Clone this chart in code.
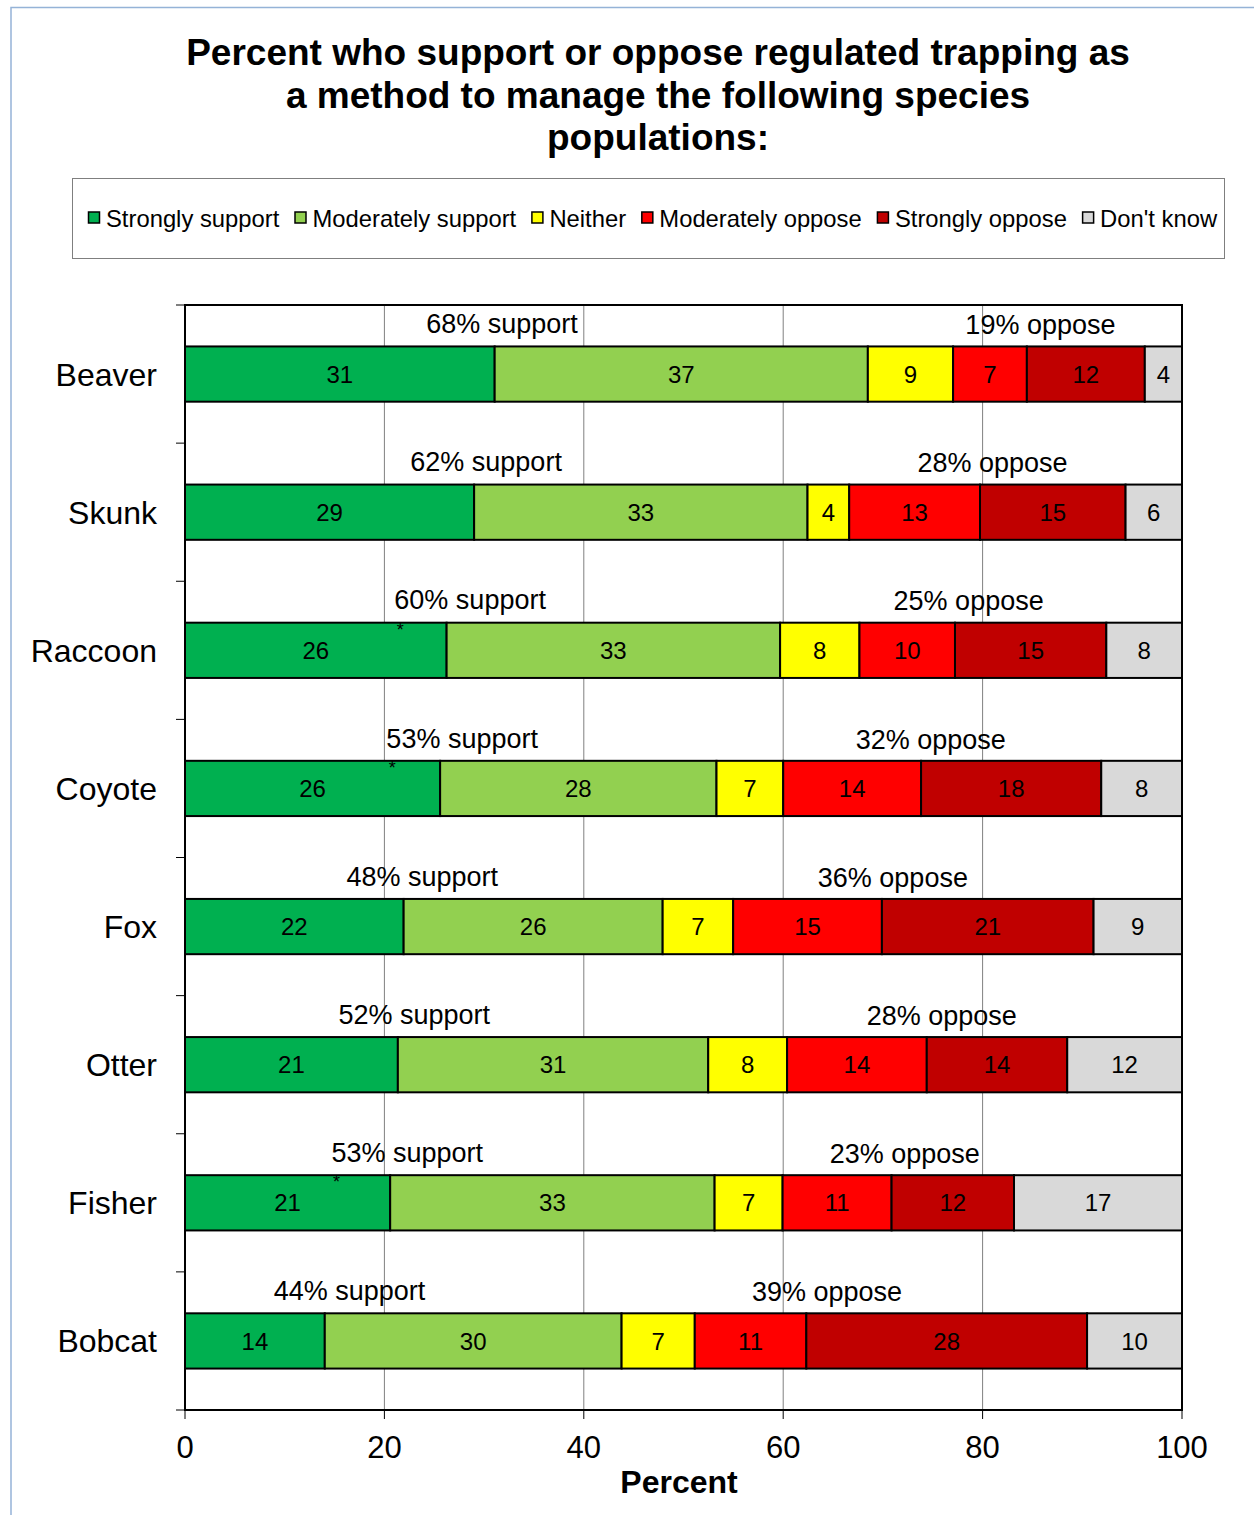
<!DOCTYPE html>
<html>
<head>
<meta charset="utf-8">
<script src="https://cdn.jsdelivr.net/npm/d3@7"></script>
<style>
	body { margin: 0; background: #fff; }
	text { font-family: 'Liberation Sans', Arial, sans-serif; fill: #000; }
</style>
</head>
<body>
<div id="chart"></div>
<script>
var species = ['Beaver', 'Skunk', 'Raccoon', 'Coyote', 'Fox', 'Otter', 'Fisher', 'Bobcat'];
var seriesNames = ['Strongly support', 'Moderately support', 'Neither', 'Moderately oppose', 'Strongly oppose', "Don't know"];

// percent of respondents
var stronglySupport   = [31.06, 29.00, 26.24, 25.59, 21.93, 21.35, 20.58, 14.02];
var moderatelySupport = [37.43, 33.44, 33.45, 27.72, 25.98, 31.13, 32.54, 29.77];
var neither           = [8.55, 4.18, 7.96, 6.69, 7.07, 7.91, 6.82, 7.34];
var moderatelyOppose  = [7.40, 13.12, 9.58, 13.83, 14.92, 14.01, 10.93, 11.19];
var stronglyOppose    = [11.83, 14.60, 15.18, 18.07, 21.23, 14.09, 12.28, 28.16];
var dontKnow          = [3.73, 5.66, 7.59, 8.10, 8.87, 11.51, 16.85, 9.52];

var supportTotal = [68, 62, 60, 53, 48, 52, 53, 44];
var opposeTotal  = [19, 28, 25, 32, 36, 28, 23, 39];
// where the totals sit along the axis (percent)
var supportLabelAt = [31.8, 30.2, 28.6, 27.8, 23.8, 23.0, 22.3, 16.5];
var opposeLabelAt  = [85.8, 81.0, 78.6, 74.8, 71.0, 75.9, 72.2, 64.4];
// significance stars (percent, null = none)
var starAt = [null, null, 21.6, 20.8, null, null, 15.2, null];

var xTicks = [0, 20, 40, 60, 80, 100];
var colors = ['#00B050', '#92D050', '#FFFF00', '#FF0000', '#C00000', '#D9D9D9'];

var width = 1254, height = 1515;
var margin = {left: 185, right: 72, top: 305, bottom: 105};

var svg = d3
	.select('#chart')
	.append('svg')
	.attr('width', width)
	.attr('height', height);

// frame
svg.append('path')
	.attr('d', 'M11,' + height + 'V7.5H' + width)
	.attr('fill', 'none')
	.attr('stroke', '#95B3D7')
	.attr('stroke-width', 1.5);

// TITLE
var titleLines = ['Percent who support or oppose regulated trapping as', 'a method to manage the following species', 'populations:'];
svg.append('g')
	.selectAll('text')
	.data(titleLines)
	.enter()
	.append('text')
	.attr('x', 658)
	.attr('y', function(d, i){ return 65 + i * 42.5; })
	.attr('text-anchor', 'middle')
	.style('font-size', '37px')
	.style('font-weight', 'bold')
	.text(function(d){ return d; });

// LEGEND
svg.append('rect')
	.attr('x', 72.5)
	.attr('y', 178.5)
	.attr('width', 1152)
	.attr('height', 80)
	.attr('fill', 'none')
	.attr('stroke', '#7f7f7f')
	.attr('stroke-width', 1);

var lx = 88;
seriesNames.forEach(function(name, i){
	var g = svg.append('g').attr('transform', 'translate(' + lx + ',0)');
	g.append('rect')
		.attr('x', 0.5)
		.attr('y', 212)
		.attr('width', 11)
		.attr('height', 11)
		.attr('fill', colors[i])
		.attr('stroke', '#000')
		.attr('stroke-width', 1.5);
	var t = g.append('text')
		.attr('x', 18)
		.attr('y', 226.5)
		.style('font-size', '23.8px')
		.text(name);
	lx += 18 + t.node().getComputedTextLength() + 15.2;
});

// SCALES
var x = d3
	.scaleLinear()
	.domain([0, 100])
	.range([margin.left, width - margin.right]);

var y = d3
	.scaleBand()
	.domain(species)
	.range([margin.top, height - margin.bottom])
	.paddingInner(0.6)
	.paddingOuter(0.3);

var plotBottom = height - margin.bottom;
var step = y.step();

// GRIDLINES
svg.append('g')
	.selectAll('line')
	.data(xTicks.slice(1, -1))
	.enter()
	.append('line')
	.attr('x1', function(d){ return x(d); })
	.attr('x2', function(d){ return x(d); })
	.attr('y1', margin.top)
	.attr('y2', plotBottom)
	.attr('stroke', '#808080')
	.attr('stroke-width', 1);

// STACK
var rows = species.map(function(s, i){
	return {
		species: s,
		v: [stronglySupport[i], moderatelySupport[i], neither[i], moderatelyOppose[i], stronglyOppose[i], dontKnow[i]]
	};
});

var stack = d3
	.stack()
	.keys(d3.range(6))
	.value(function(d, k){ return d.v[k]; });

var layers = stack(rows);

var layer = svg.append('g')
	.selectAll('g')
	.data(layers)
	.enter()
	.append('g')
	.attr('fill', function(d, i){ return colors[i]; });

layer.selectAll('rect')
	.data(function(d){ return d; })
	.enter()
	.append('rect')
	.attr('x', function(d){ return x(d[0]); })
	.attr('y', function(d){ return y(d.data.species); })
	.attr('width', function(d){ return x(d[1]) - x(d[0]); })
	.attr('height', y.bandwidth())
	.attr('stroke', '#000')
	.attr('stroke-width', 2);

layer.selectAll('text')
	.data(function(d){ return d; })
	.enter()
	.append('text')
	.attr('x', function(d){ return (x(d[0]) + x(d[1])) / 2; })
	.attr('y', function(d){ return y(d.data.species) + y.bandwidth() / 2; })
	.attr('dy', '0.36em')
	.attr('text-anchor', 'middle')
	.style('font-size', '24px')
	.text(function(d){ return Math.round(d[1] - d[0]); });

// SUPPORT / OPPOSE TOTALS
svg.append('g')
	.selectAll('text')
	.data(species)
	.enter()
	.append('text')
	.attr('x', function(d, i){ return x(supportLabelAt[i]); })
	.attr('y', function(d){ return y(d) - 23; })
	.attr('dy', '0.36em')
	.attr('text-anchor', 'middle')
	.style('font-size', '27px')
	.text(function(d, i){ return supportTotal[i] + '% support'; });

svg.append('g')
	.selectAll('text')
	.data(species)
	.enter()
	.append('text')
	.attr('x', function(d, i){ return x(opposeLabelAt[i]); })
	.attr('y', function(d){ return y(d) - 22; })
	.attr('dy', '0.36em')
	.attr('text-anchor', 'middle')
	.style('font-size', '27px')
	.text(function(d, i){ return opposeTotal[i] + '% oppose'; });

svg.append('g')
	.selectAll('text')
	.data(species.filter(function(d, i){ return starAt[i] != null; }))
	.enter()
	.append('text')
	.attr('x', function(d){ return x(starAt[species.indexOf(d)]); })
	.attr('y', function(d){ return y(d) + 13; })
	.attr('text-anchor', 'middle')
	.style('font-size', '18px')
	.text('*');

// PLOT BORDER
svg.append('rect')
	.attr('x', margin.left)
	.attr('y', margin.top)
	.attr('width', x(100) - x(0))
	.attr('height', plotBottom - margin.top)
	.attr('fill', 'none')
	.attr('stroke', '#000')
	.attr('stroke-width', 2);

// Y AXIS: ticks between the bands, species names
var yTickPos = species.map(function(d){ return y(d) - step * y.paddingInner() / 2; }).concat([plotBottom]);
svg.append('g')
	.selectAll('line')
	.data(yTickPos)
	.enter()
	.append('line')
	.attr('x1', margin.left - 9)
	.attr('x2', margin.left)
	.attr('y1', function(d){ return d; })
	.attr('y2', function(d){ return d; })
	.attr('stroke', '#000')
	.attr('stroke-width', 1);

svg.append('g')
	.selectAll('text')
	.data(species)
	.enter()
	.append('text')
	.attr('x', 157)
	.attr('y', function(d){ return y(d) + y.bandwidth() / 2; })
	.attr('dy', '0.36em')
	.attr('text-anchor', 'end')
	.style('font-size', '32px')
	.text(function(d){ return d; });

// X AXIS
svg.append('g')
	.selectAll('line')
	.data(xTicks)
	.enter()
	.append('line')
	.attr('x1', function(d){ return x(d); })
	.attr('x2', function(d){ return x(d); })
	.attr('y1', plotBottom)
	.attr('y2', plotBottom + 9)
	.attr('stroke', '#000')
	.attr('stroke-width', 1);

svg.append('g')
	.selectAll('text')
	.data(xTicks)
	.enter()
	.append('text')
	.attr('x', function(d){ return x(d); })
	.attr('y', 1458)
	.attr('text-anchor', 'middle')
	.style('font-size', '31px')
	.text(function(d){ return d; });

svg.append('text')
	.attr('x', 679)
	.attr('y', 1493)
	.attr('text-anchor', 'middle')
	.style('font-size', '32px')
	.style('font-weight', 'bold')
	.text('Percent');
</script>
</body>
</html>
